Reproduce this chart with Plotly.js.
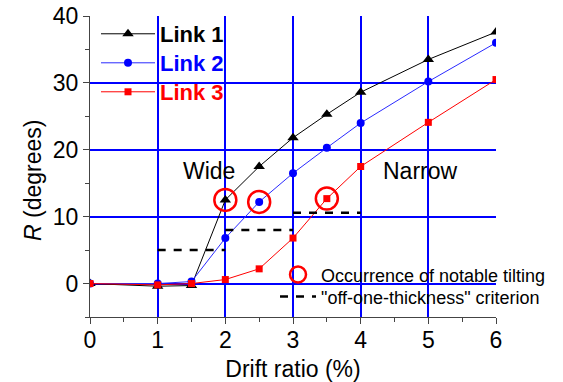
<!DOCTYPE html>
<html><head><meta charset="utf-8">
<script src="https://cdn.plot.ly/plotly-3.0.1.min.js"></script>
<style>html,body{margin:0;padding:0;background:#fff}</style>
</head><body>
<div id="chart" style="width:563px;height:382px"></div>
<script>
const drift = [0, 1, 1.5, 2, 2.5, 3, 3.5, 4, 5, 6];
const link1 = [0, -0.4, -0.3, 12.5, 17.5, 21.8, 25.3, 28.6, 33.5, 37.6];
const link2 = [0, 0, 0.3, 6.8, 12.2, 16.5, 20.3, 24.0, 30.2, 36.0];
const link3 = [0, -0.2, 0, 0.6, 2.2, 6.8, 12.7, 17.5, 24.1, 30.5];
const tiltX = [2, 2.5, 3.5];
const tiltY = [12.5, 12.2, 12.7];
const critX = [[1, 2], [2, 3], [3, 4]];
const critY = [5, 8, 10.6];
const regionLabels = ["Wide", "Narrow"];
const regionX = [1.76, 4.89];
const regionY = [16.9, 16.8];
const xTicks = [0, 1, 2, 3, 4, 5, 6];
const yTicks = [0, 10, 20, 30, 40];

const font = "Liberation Sans, Arial, sans-serif";
const traces = [
  {x: drift, y: link1, mode: "lines+markers", name: "<b>Link 1</b>", legend: "legend",
   line: {color: "#000000", width: 1}, marker: {symbol: "triangle-up", size: 10, color: "#000000"}},
  {x: drift, y: link2, mode: "lines+markers", name: "<b><span style='color:#0000ff'>Link 2</span></b>", legend: "legend4",
   line: {color: "#2a2aff", width: 1}, marker: {symbol: "circle", size: 8, color: "#0000ff"}},
  {x: drift, y: link3, mode: "lines+markers", name: "<b><span style='color:#ff0000'>Link 3</span></b>", legend: "legend5",
   line: {color: "#ff0000", width: 1}, marker: {symbol: "square", size: 7, color: "#ff0000"}},
  {x: tiltX, y: tiltY, mode: "markers", name: "Occurrence of notable tilting", legend: "legend2",
   marker: {symbol: "circle-open", size: 22, color: "#ff0000", line: {width: 2.5, color: "#ff0000"}}}
];
critX.forEach((xs, i) => {
  traces.push({x: xs, y: [critY[i], critY[i]], mode: "lines", legend: "legend3",
    name: "\"off-one-thickness\" criterion", showlegend: i === 0,
    line: {color: "#000000", width: 2.5, dash: "8px,8px"}});
});

const legBase = {xanchor: "left", yanchor: "top", bgcolor: "rgba(0,0,0,0)", tracegroupgap: 0};
const layout = {
  width: 563, height: 382,
  margin: {l: 90, r: 67, t: 16, b: 65},
  paper_bgcolor: "#ffffff", plot_bgcolor: "#ffffff",
  font: {family: font, color: "#000000", size: 23},
  showlegend: true,
  xaxis: {
    range: [0, 6], tickvals: xTicks, ticks: "outside", ticklen: 6, tickcolor: "#444",
    showline: true, linecolor: "#444", linewidth: 1, ticklabelstandoff: -4,
    showgrid: true, gridcolor: "#0000ff", gridwidth: 2, zeroline: false,
    minor: {dtick: 0.5, ticks: "outside", ticklen: 4, tickcolor: "#444", showgrid: false},
    tickfont: {size: 23, family: font},
    title: {text: "Drift ratio (%)", font: {size: 23, family: font}, standoff: 10}
  },
  yaxis: {
    range: [-5, 40], tickvals: yTicks, ticks: "outside", ticklen: 6, tickcolor: "#444",
    showline: true, linecolor: "#444", linewidth: 1,
    showgrid: true, gridcolor: "#0000ff", gridwidth: 2, zeroline: false,
    minor: {dtick: 5, ticks: "outside", ticklen: 4, tickcolor: "#444", showgrid: false},
    tickfont: {size: 23, family: font}
  },
  legend: Object.assign({x: 0.0148, y: 1.01, font: {size: 22, family: font, color: "#000000"}, itemwidth: 54}, legBase),
  legend4: Object.assign({x: 0.0148, y: 0.9136, font: {size: 22, family: font, color: "#000000"}, itemwidth: 54}, legBase),
  legend5: Object.assign({x: 0.0148, y: 0.8173, font: {size: 22, family: font, color: "#000000"}, itemwidth: 54}, legBase),
  legend2: Object.assign({x: 0.4557, y: 0.2016, font: {size: 18, family: font, color: "#000000"}, itemwidth: 36}, legBase),
  legend3: Object.assign({x: 0.4557, y: 0.1286, font: {size: 18, family: font, color: "#000000"}, itemwidth: 36}, legBase),
  annotations: regionLabels.map((t, i) => ({x: regionX[i], y: regionY[i], text: t, showarrow: false,
    xanchor: "center", yanchor: "middle", font: {size: 23, family: font, color: "#000000"}})).concat([
    {xref: "paper", yref: "paper", x: -0.1404, y: 0.455, text: "<i>R</i> (degrees)", textangle: -90,
     showarrow: false, xanchor: "center", yanchor: "middle", font: {size: 23, family: font, color: "#000000"}}])
};
Plotly.newPlot("chart", traces, layout, {displayModeBar: false, staticPlot: true});
</script>
</body></html>
